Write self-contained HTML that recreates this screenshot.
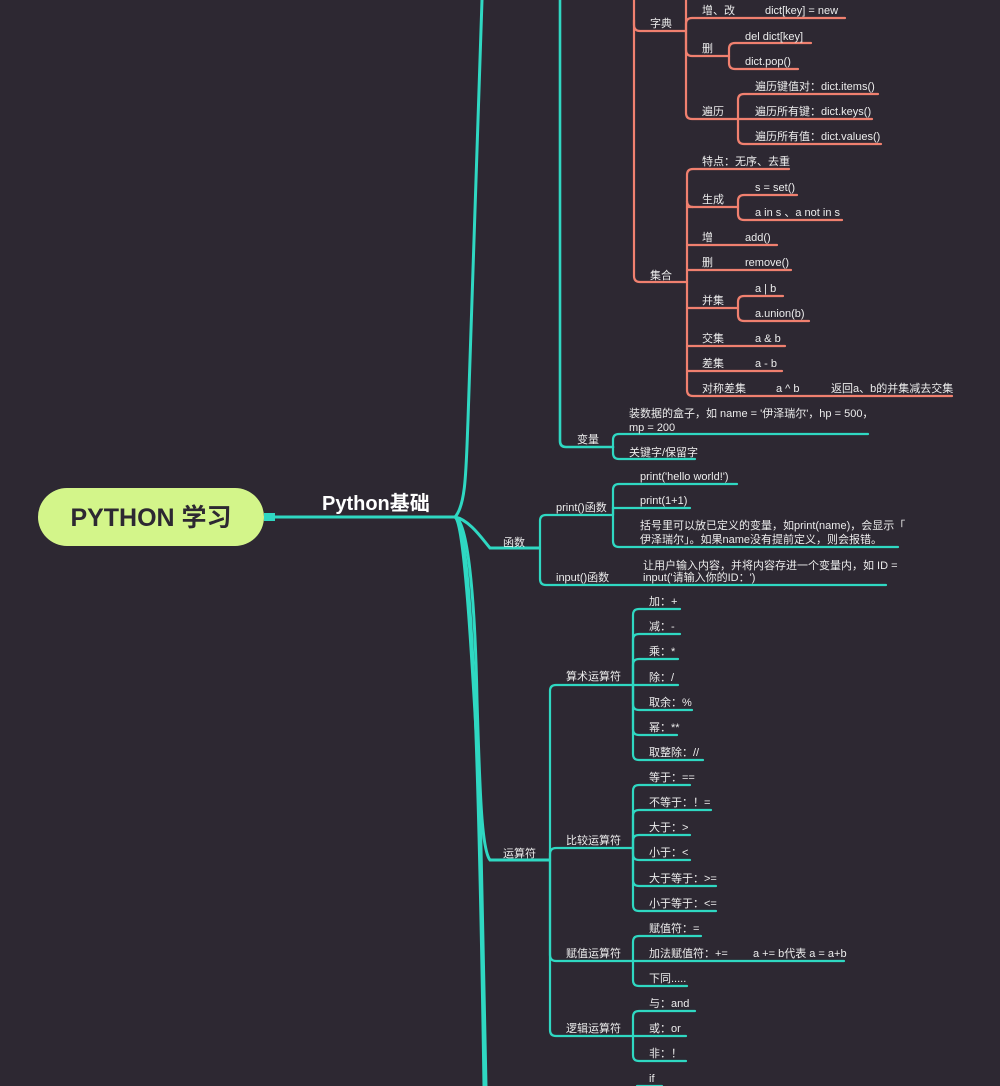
<!DOCTYPE html>
<html><head><meta charset="utf-8"><style>
html,body{margin:0;padding:0;background:#2d2832;}
svg{display:block}
text{font-family:"Liberation Sans","Noto Sans CJK SC",sans-serif;font-size:11px;fill:#ececec}
.t{fill:none;stroke:#2fd8c2;stroke-width:2.2;stroke-linecap:round}
.s{fill:none;stroke:#f0806f;stroke-width:2.2;stroke-linecap:round}
.m{fill:none;stroke:#2fd8c2;stroke-width:3}
</style></head><body>
<svg width="1000" height="1086" viewBox="0 0 1000 1086" xmlns="http://www.w3.org/2000/svg">
<rect width="1000" height="1086" fill="#2d2832"/>
<!-- root -->
<rect x="38" y="488" width="226" height="58" rx="29" fill="#d3f58a"/>
<text x="151" y="526" text-anchor="middle" style="font-size:25px;font-weight:bold;fill:#2d2832">PYTHON 学习</text>
<rect x="264" y="513" width="11" height="8" fill="#2fd8c2"/>
<path class="m" d="M275,517 L455,517"/>
<text x="322" y="510" style="font-size:20px;font-weight:bold;fill:#fff">Python基础</text>
<!-- main curves -->
<path class="m" d="M455,517 C466,505 466,470 468,420 L482,0"/>
<path class="m" d="M455,517 C470,520 483,540 490,548 L540,548"/>
<path class="m" d="M455,517 C468,520 475,600 477,700 C480,800 482,850 490,860 L550,860"/>
<path class="m" d="M455,517 C470,525 478,700 484,1086"/>
<path class="m" d="M455,517 C466,525 474,700 480,800 L486,1086"/>
<!-- 变量 branch -->
<path class="t" style="stroke-width:2.6" d="M560,0 L560,441 Q560,447 566,447 L613,447"/>
<text x="577" y="443">变量</text>
<path class="t" d="M613,447 L613,440 Q613,434 619,434 L868,434"/>
<path class="t" d="M613,447 L613,453 Q613,459 619,459 L695,459"/>
<text x="629" y="417">装数据的盒子，如 name = '伊泽瑞尔'，hp = 500，</text>
<text x="629" y="431">mp = 200</text>
<text x="629" y="456">关键字/保留字</text>
<!-- salmon -->
<path class="s" d="M634,0 L634,25 Q634,31 640,31 L686,31"/>
<path class="s" d="M634,20 L634,276 Q634,282 640,282 L687,282"/>
<text x="650" y="27">字典</text>
<text x="650" y="279">集合</text>
<path class="s" d="M686,0 L686,113 Q686,119 692,119 L738,119"/>
<path class="s" d="M686,31 L686,24 Q686,18 692,18 L845,18"/>
<path class="s" d="M686,31 L686,50 Q686,56 692,56 L729,56"/>
<text x="702" y="14">增、改</text><text x="765" y="14">dict[key] = new</text>
<text x="702" y="52">删</text>
<path class="s" d="M729,56 L729,49 Q729,43 735,43 L811,43"/>
<path class="s" d="M729,56 L729,63 Q729,69 735,69 L798,69"/>
<text x="745" y="40">del dict[key]</text><text x="745" y="65">dict.pop()</text>
<text x="702" y="115">遍历</text>
<path class="s" d="M738,119 L738,100 Q738,94 744,94 L878,94"/>
<path class="s" d="M738,119 L872,119"/>
<path class="s" d="M738,119 L738,138 Q738,144 744,144 L881,144"/>
<text x="755" y="90">遍历键值对：dict.items()</text>
<text x="755" y="115">遍历所有键：dict.keys()</text>
<text x="755" y="140">遍历所有值：dict.values()</text>
<!-- set -->
<path class="s" d="M687,282 L687,175 Q687,169 693,169 L789,169"/>
<path class="s" d="M687,282 L687,390 Q687,396 693,396 L952,396"/>
<path class="s" d="M687,207 L738,207"/>
<path class="s" d="M687,201 Q687,207 693,207"/>
<path class="s" d="M687,245 L777,245"/>
<path class="s" d="M687,270 L791,270"/>
<path class="s" d="M687,308 L738,308"/>
<path class="s" d="M687,346 L785,346"/>
<path class="s" d="M687,371 L782,371"/>
<text x="702" y="165">特点：无序、去重</text>
<text x="702" y="203">生成</text>
<path class="s" d="M738,207 L738,201 Q738,195 744,195 L797,195"/>
<path class="s" d="M738,207 L738,214 Q738,220 744,220 L842,220"/>
<text x="755" y="191">s = set()</text><text x="755" y="216">a in s 、a not in s</text>
<text x="702" y="241">增</text><text x="745" y="241">add()</text>
<text x="702" y="266">删</text><text x="745" y="266">remove()</text>
<text x="702" y="304">并集</text>
<path class="s" d="M738,308 L738,302 Q738,296 744,296 L783,296"/>
<path class="s" d="M738,308 L738,315 Q738,321 744,321 L809,321"/>
<text x="755" y="292">a | b</text><text x="755" y="317">a.union(b)</text>
<text x="702" y="342">交集</text><text x="755" y="342">a &amp; b</text>
<text x="702" y="367">差集</text><text x="755" y="367">a - b</text>
<text x="702" y="392">对称差集</text><text x="776" y="392">a ^ b</text><text x="831" y="392">返回a、b的并集减去交集</text>
<!-- 函数 -->
<text x="503" y="546">函数</text>
<path class="t" d="M540,548 L540,521 Q540,515 546,515 L613,515"/>
<path class="t" d="M540,548 L540,579 Q540,585 546,585 L886,585"/>
<text x="556" y="511">print()函数</text>
<text x="556" y="581">input()函数</text>
<text x="643" y="569">让用户输入内容，并将内容存进一个变量内，如 ID =</text>
<text x="643" y="581">input('请输入你的ID：')</text>
<path class="t" d="M613,515 L613,490 Q613,484 619,484 L737,484"/>
<path class="t" d="M613,515 L613,508 L690,508"/>
<path class="t" d="M613,515 L613,541 Q613,547 619,547 L898,547"/>
<text x="640" y="480">print('hello world!')</text>
<text x="640" y="504">print(1+1)</text>
<text x="640" y="529">括号里可以放已定义的变量，如print(name)，会显示「</text>
<text x="640" y="543">伊泽瑞尔」。如果name没有提前定义，则会报错。</text>
<!-- 运算符 -->
<text x="503" y="857">运算符</text>
<path class="t" d="M550,860 L550,691 Q550,685 556,685 L633,685"/>
<path class="t" d="M550,860 L550,1030 Q550,1036 556,1036 L633,1036"/>
<path class="t" d="M550,860 L550,854 Q550,848 556,848 L633,848"/>
<path class="t" d="M550,860 L550,955 Q550,961 556,961 L633,961"/>
<text x="566" y="680">算术运算符</text>
<text x="566" y="844">比较运算符</text>
<text x="566" y="957">赋值运算符</text>
<text x="566" y="1032">逻辑运算符</text>
<g class="t">
<path d="M633,685 L633,615 Q633,609 639,609 L680,609"/>
<path d="M633,685 L633,640 Q633,634 639,634 L680,634"/>
<path d="M633,685 L633,665 Q633,659 639,659 L678,659"/>
<path d="M633,685 L678,685"/>
<path d="M633,685 L633,704 Q633,710 639,710 L692,710"/>
<path d="M633,685 L633,729 Q633,735 639,735 L677,735"/>
<path d="M633,685 L633,754 Q633,760 639,760 L703,760"/>
<path d="M633,848 L633,791 Q633,785 639,785 L690,785"/>
<path d="M633,848 L633,816 Q633,810 639,810 L711,810"/>
<path d="M633,848 L633,841 Q633,835 639,835 L690,835"/>
<path d="M633,848 L633,854 Q633,860 639,860 L690,860"/>
<path d="M633,848 L633,880 Q633,886 639,886 L716,886"/>
<path d="M633,848 L633,905 Q633,911 639,911 L716,911"/>
<path d="M633,961 L633,942 Q633,936 639,936 L701,936"/>
<path d="M633,961 L844,961"/>
<path d="M633,961 L633,980 Q633,986 639,986 L687,986"/>
<path d="M633,1036 L633,1017 Q633,1011 639,1011 L695,1011"/>
<path d="M633,1036 L686,1036"/>
<path d="M633,1036 L633,1055 Q633,1061 639,1061 L686,1061"/>
<path d="M637,1086 L637,1086 L662,1086"/>
</g>
<text x="649" y="605">加：+</text>
<text x="649" y="630">减：-</text>
<text x="649" y="655">乘：*</text>
<text x="649" y="681">除：/</text>
<text x="649" y="706">取余：%</text>
<text x="649" y="731">幂：**</text>
<text x="649" y="756">取整除：//</text>
<text x="649" y="781">等于：==</text>
<text x="649" y="806">不等于：！=</text>
<text x="649" y="831">大于：&gt;</text>
<text x="649" y="856">小于：&lt;</text>
<text x="649" y="882">大于等于：&gt;=</text>
<text x="649" y="907">小于等于：&lt;=</text>
<text x="649" y="932">赋值符：=</text>
<text x="649" y="957">加法赋值符：+=</text>
<text x="753" y="957">a += b代表 a = a+b</text>
<text x="649" y="982">下同.....</text>
<text x="649" y="1007">与：and</text>
<text x="649" y="1032">或：or</text>
<text x="649" y="1057">非：！</text>
<text x="649" y="1082">if</text>
</svg>
</body></html>
